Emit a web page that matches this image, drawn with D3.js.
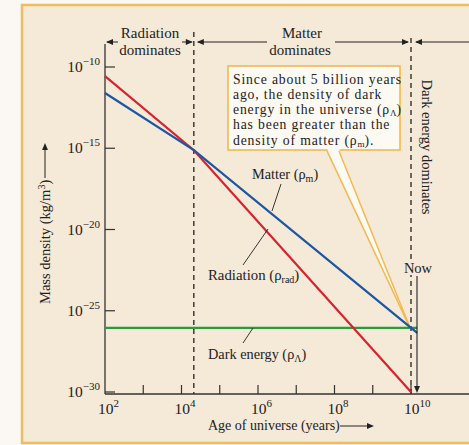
<!DOCTYPE html>
<html>
<head>
<meta charset="utf-8">
<script src="https://cdn.jsdelivr.net/npm/d3@7"></script>
<style>
  html, body { margin: 0; padding: 0; background: #fbf8f3; }
  svg { display: block; font-family: "Liberation Serif", "DejaVu Serif", serif; }
</style>
</head>
<body>
<svg id="chart" width="469" height="445"></svg>
<script>
// ages in years, densities in kg/m^3
const radiation = [[1e2, 2.75e-11], [2.1e4, 7.6e-16], [1e10, 1e-30]];
const matter = [[1e2, 2.5e-12], [2.1e4, 7.6e-16], [1.45e10, 4.4e-27]];
const darkEnergy = [[1e2, 8.9e-27], [1.45e10, 8.9e-27]];

const yTicks = [1e-10, 1e-15, 1e-20, 1e-25, 1e-30];
const yTickExp = ["−10", "−15", "−20", "−25", "−30"];
const xTicks = [1e3, 1e4, 1e5, 1e6, 1e7, 1e8, 1e9, 1e10];
const xLabels = [1e2, 1e4, 1e6, 1e8, 1e10];
const xLabelExp = ["2", "4", "6", "8", "10"];
const equalityAge = 2.1e4;
const nowAge = 1e10;

const svg = d3.select("#chart");

const x = d3.scaleLog().domain([1e2, 1e10]).range([105, 411]);
const y = d3.scaleLog().domain([1e-30, 1e-10]).range([392, 67]);
const axisY = 394;
const bg = "#f5e9d7";

// frame
svg.append("rect")
  .attr("x", 22).attr("y", 5)
  .attr("width", 460).attr("height", 438)
  .attr("fill", bg)
  .attr("stroke", "#f2bc58")
  .attr("stroke-width", 2.5);

function arrowHead(g, tx, ty, dir, size = 7) {
  // dir: "l", "r", "u", "d"
  const w = size * 0.42;
  let pts;
  if (dir === "l") pts = [[tx, ty], [tx + size, ty - w], [tx + size, ty + w]];
  if (dir === "r") pts = [[tx, ty], [tx - size, ty - w], [tx - size, ty + w]];
  if (dir === "u") pts = [[tx, ty], [tx - w, ty + size], [tx + w, ty + size]];
  if (dir === "d") pts = [[tx, ty], [tx - w, ty - size], [tx + w, ty - size]];
  g.append("path").attr("d", "M" + pts.join("L") + "Z").attr("fill", "#222");
}

// dashed era boundaries
[equalityAge, nowAge].forEach((a, i) => {
  svg.append("line")
    .attr("x1", x(a)).attr("x2", x(a))
    .attr("y1", i === 0 ? 32 : 38).attr("y2", axisY)
    .attr("stroke", "#222")
    .attr("stroke-width", 1.3)
    .attr("stroke-dasharray", "5,4");
});

// era header arrows
const hdr = svg.append("g");
const hy = 42;
function seg(x1, x2) {
  hdr.append("line").attr("x1", x1).attr("x2", x2).attr("y1", hy).attr("y2", hy)
    .attr("stroke", "#222").attr("stroke-width", 1);
}
seg(x(1e2) + 2, 118); arrowHead(hdr, x(1e2) + 1, hy, "l");
seg(182, x(equalityAge) - 2); arrowHead(hdr, x(equalityAge) - 1, hy, "r");
seg(x(equalityAge) + 4, 267); arrowHead(hdr, x(equalityAge) + 3, hy, "l");
seg(335, x(nowAge) - 3); arrowHead(hdr, x(nowAge) - 2, hy, "r");
seg(x(nowAge) + 5, 469); arrowHead(hdr, x(nowAge) + 4, hy, "l");

const headerText = [
  { t: "Radiation", x: 150, y: 38 },
  { t: "dominates", x: 150, y: 55 },
  { t: "Matter", x: 302, y: 38 },
  { t: "dominates", x: 300, y: 55 }
];
hdr.selectAll("text.hdr").data(headerText).enter().append("text")
  .attr("x", d => d.x).attr("y", d => d.y)
  .attr("text-anchor", "middle")
  .style("font-size", "15px").style("fill", "#222")
  .text(d => d.t);

svg.append("text")
  .attr("transform", `translate(422,147) rotate(90)`)
  .attr("text-anchor", "middle")
  .style("font-size", "14.5px").style("fill", "#222")
  .text("Dark energy dominates");

// axes
svg.append("line").attr("x1", x(1e2)).attr("x2", x(1e2)).attr("y1", 44).attr("y2", axisY)
  .attr("stroke", "#333").attr("stroke-width", 1.3);
svg.append("line").attr("x1", x(1e2)).attr("x2", 469).attr("y1", axisY).attr("y2", axisY)
  .attr("stroke", "#333").attr("stroke-width", 1.3);

svg.selectAll("line.ytick").data(yTicks).enter().append("line")
  .attr("class", "ytick")
  .attr("x1", x(1e2)).attr("x2", x(1e2) + 10)
  .attr("y1", d => y(d)).attr("y2", d => y(d))
  .attr("stroke", "#333").attr("stroke-width", 1.2);

const yl = svg.selectAll("text.ylab").data(yTicks).enter().append("text")
  .attr("class", "ylab")
  .attr("x", 100).attr("y", d => y(d) + 5)
  .attr("text-anchor", "end")
  .style("fill", "#222");
yl.append("tspan").style("font-size", "15.5px").text("10");
yl.append("tspan").attr("dy", -7).style("font-size", "11px").text((d, i) => yTickExp[i]);

svg.selectAll("line.xtick").data(xTicks).enter().append("line")
  .attr("class", "xtick")
  .attr("x1", d => x(d)).attr("x2", d => x(d))
  .attr("y1", axisY).attr("y2", axisY - 9)
  .attr("stroke", "#333").attr("stroke-width", 1.2);

const xl = svg.selectAll("text.xlab").data(xLabels).enter().append("text")
  .attr("class", "xlab")
  .attr("x", d => x(d) - 7).attr("y", 414)
  .style("fill", "#222");
xl.append("tspan").style("font-size", "15.5px").text("10");
xl.append("tspan").attr("dy", -7).style("font-size", "11px").text((d, i) => xLabelExp[i]);

// axis titles
svg.append("text")
  .attr("x", 208).attr("y", 430)
  .style("font-size", "14px").style("fill", "#222")
  .text("Age of universe (years)");
svg.append("line").attr("x1", 340).attr("x2", 368).attr("y1", 426).attr("y2", 426)
  .attr("stroke", "#222").attr("stroke-width", 1);
arrowHead(svg, 374, 426, "r");

const yt = svg.append("text")
  .attr("transform", "translate(50,304) rotate(-90)")
  .style("font-size", "14.5px").style("fill", "#222");
yt.append("tspan").text("Mass density (kg/m");
yt.append("tspan").attr("dy", -5).style("font-size", "10px").text("3");
yt.append("tspan").attr("dy", 5).text(")");
svg.append("line").attr("x1", 45).attr("x2", 45).attr("y1", 178).attr("y2", 149)
  .attr("stroke", "#222").attr("stroke-width", 1);
arrowHead(svg, 45, 143, "u");

// annotation box + pointer
const box = svg.append("g");
box.append("rect")
  .attr("x", 228).attr("y", 66).attr("width", 172).attr("height", 84)
  .attr("fill", "#fdf9f3").attr("stroke", "#f2b94e").attr("stroke-width", 1.6);
const tip = [x(nowAge) - 1, y(darkEnergy[0][1])];
box.append("path")
  .attr("d", `M327,148.5L${tip[0]},${tip[1]}L339,148.5Z`)
  .attr("fill", "#fdf9f3");
[[327, 151], [339, 151]].forEach(p => {
  box.append("line").attr("x1", p[0]).attr("y1", p[1]).attr("x2", tip[0]).attr("y2", tip[1])
    .attr("stroke", "#f2b94e").attr("stroke-width", 1.5);
});
const boxLines = [
  [["Since about 5 billion years"]],
  [["ago, the density of dark"]],
  [["energy in the universe (ρ"], ["Λ", "sub"], [")"]],
  [["has been greater than the"]],
  [["density of matter (ρ"], ["m", "sub"], [")."]]
];
const boxBase = [83.5, 98.7, 113.9, 129.4, 144.6];
boxLines.forEach((parts, i) => {
  const t = box.append("text").attr("x", 233).attr("y", boxBase[i])
    .style("font-size", "13.7px").style("letter-spacing", "0.85px").style("fill", "#222");
  parts.forEach((p, j) => {
    if (p[1] === "sub") {
      t.append("tspan").attr("dy", 2).style("font-size", "9px").style("letter-spacing", "0px").text(p[0]);
    } else {
      t.append("tspan").attr("dy", j > 0 ? -2 : 0).text(p[0]);
    }
  });
});

// data lines
const line = d3.line().x(d => x(d[0])).y(d => y(d[1]));
const series = [
  { data: darkEnergy, color: "#2e9a3e" },
  { data: radiation, color: "#d8232f" },
  { data: matter, color: "#1d56a3" }
];
svg.selectAll("path.series").data(series).enter().append("path")
  .attr("class", "series")
  .attr("d", d => line(d.data))
  .attr("fill", "none")
  .attr("stroke", d => d.color)
  .attr("stroke-width", 2.2);

// labels with leader lines
const labels = [
  { main: "Matter (ρ", sub: "m", x: 252, y: 179, fs: 14.3, l: [281, 184, 272, 211] },
  { main: "Radiation (ρ", sub: "rad", x: 208, y: 280, fs: 14.8, l: [268, 229, 243, 265] },
  { main: "Dark energy (ρ", sub: "Λ", x: 208, y: 359, fs: 14.3, l: [253, 328, 243, 343] }
];
labels.forEach(d => {
  const t = svg.append("text").attr("x", d.x).attr("y", d.y)
    .style("font-size", d.fs + "px").style("fill", "#222");
  t.append("tspan").text(d.main);
  t.append("tspan").attr("dy", 3).style("font-size", "10px").text(d.sub);
  t.append("tspan").attr("dy", -3).text(")");
  svg.append("line")
    .attr("x1", d.l[0]).attr("y1", d.l[1]).attr("x2", d.l[2]).attr("y2", d.l[3])
    .attr("stroke", "#222").attr("stroke-width", 0.9);
});

// "Now" marker (label sits over the dashed line)
svg.append("rect").attr("x", 403).attr("y", 261).attr("width", 30).attr("height", 14)
  .attr("fill", bg);
svg.append("text").attr("x", 418).attr("y", 273)
  .attr("text-anchor", "middle")
  .style("font-size", "14.5px").style("fill", "#222")
  .text("Now");
svg.append("line").attr("x1", 417).attr("x2", 417).attr("y1", 276).attr("y2", 387)
  .attr("stroke", "#222").attr("stroke-width", 1.1);
arrowHead(svg, 417, 393, "d");
</script>
</body>
</html>
